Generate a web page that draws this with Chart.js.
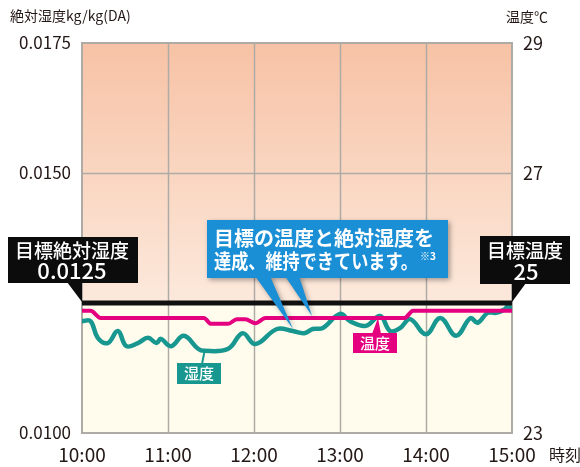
<!DOCTYPE html>
<html lang="ja">
<head>
<meta charset="utf-8">
<script src="https://cdn.jsdelivr.net/npm/chart.js@4"></script>
<style>
  html, body { margin: 0; padding: 0; background: #ffffff; }
  canvas { display: block; }
</style>
</head>
<body>
<canvas id="chart" width="580" height="467"></canvas>
<script>
// Time axis: minutes after 10:00
const timeLabels = ['10:00', '11:00', '12:00', '13:00', '14:00', '15:00'];

// Absolute humidity (kg/kg(DA)) readings
const humidityMinutes = [0, 6, 11, 18, 25, 31, 39, 46, 52, 55, 62, 71, 81, 85, 102, 112, 121, 136, 147, 155, 161, 168, 180, 187, 198, 208, 215, 222, 229, 240, 250, 261, 271, 276, 283, 289, 295, 297, 300];
const humidityValues = [0.01215, 0.01215, 0.01183, 0.01173, 0.01196, 0.01167, 0.01173, 0.01183, 0.01173, 0.01181, 0.01167, 0.01187, 0.01162, 0.01158, 0.01162, 0.01192, 0.01171, 0.01200, 0.01196, 0.01192, 0.01200, 0.01202, 0.01229, 0.01215, 0.01206, 0.01225, 0.01196, 0.01202, 0.01219, 0.01190, 0.01221, 0.01187, 0.01221, 0.01212, 0.01231, 0.01231, 0.01238, 0.01244, 0.01238];

// Room temperature (°C) readings
const temperatureMinutes = [0, 6, 13, 85, 90, 102, 108, 114, 121, 128, 225, 231, 300];
const temperatureValues = [24.88, 24.88, 24.77, 24.77, 24.68, 24.68, 24.75, 24.75, 24.69, 24.77, 24.77, 24.88, 24.88];

// Targets
const targetHumidity = 0.0125;
const targetTemperature = 25;

// Axis ticks
const humidityTicks = [0.0100, 0.0125, 0.0150, 0.0175];
const temperatureTicks = [23, 25, 27, 29];
const hiddenHumidityTick = 0.0125;
const hiddenTemperatureTick = 25;

const FONT = "'Noto Sans CJK JP', 'Noto Sans', sans-serif";
const TEXT = '#231815';
const GRID = '#aeaaa6';
const PINK = '#e4007f';
const TEAL = '#17978f';
const BLUE = '#1a8fd6';

const toPoints = (xs, ys) => xs.map((x, i) => ({ x: x, y: ys[i] }));

// Plot background: warm gradient above the humidity target, cream below
const backgroundPlugin = {
  id: 'zones',
  beforeDatasetsDraw(chart) {
    const { ctx, chartArea: a, scales } = chart;
    const yT = scales.y.getPixelForValue(targetHumidity);
    ctx.save();
    const g = ctx.createLinearGradient(0, a.top, 0, yT);
    g.addColorStop(0, '#f7c2a5');
    g.addColorStop(1, '#fce9dc');
    ctx.fillStyle = g;
    ctx.fillRect(a.left, a.top, a.right - a.left, yT - a.top);
    ctx.fillStyle = '#fffcee';
    ctx.fillRect(a.left, yT, a.right - a.left, a.bottom - yT);
    // hour grid lines and the 0.0150 line
    ctx.strokeStyle = GRID;
    ctx.lineWidth = 1.5;
    for (let i = 1; i < timeLabels.length - 1; i++) {
      const x = Math.round(scales.x.getPixelForValue(i * 60)) + 0.5;
      ctx.beginPath(); ctx.moveTo(x, a.top); ctx.lineTo(x, a.bottom); ctx.stroke();
    }
    const y150 = Math.round(scales.y.getPixelForValue(0.0150)) + 0.5;
    ctx.beginPath(); ctx.moveTo(a.left, y150); ctx.lineTo(a.right, y150); ctx.stroke();
    // frame
    ctx.lineWidth = 2;
    ctx.strokeRect(a.left, a.top, a.right - a.left, a.bottom - a.top);
    ctx.restore();
  }
};

function box(ctx, x, y, w, h, color) {
  ctx.fillStyle = color;
  ctx.fillRect(x, y, w, h);
}
function tri(ctx, pts, color) {
  ctx.fillStyle = color;
  ctx.beginPath();
  ctx.moveTo(pts[0][0], pts[0][1]);
  for (let i = 1; i < pts.length; i++) ctx.lineTo(pts[i][0], pts[i][1]);
  ctx.closePath();
  ctx.fill();
}
function text(ctx, s, x, y, size, color, align, weight) {
  ctx.font = (weight || '400') + ' ' + size + 'px ' + FONT;
  ctx.fillStyle = color;
  ctx.textAlign = align || 'center';
  ctx.textBaseline = 'middle';
  ctx.fillText(s, x, y);
}

// Callouts and captions
const calloutPlugin = {
  id: 'callouts',
  afterDatasetsDraw(chart) {
    const { ctx, chartArea: a, scales } = chart;
    const yT = scales.y.getPixelForValue(targetHumidity);
    ctx.save();

    // axis titles
    text(ctx, '絶対湿度kg/kg(DA)', 10, 16, 14, TEXT, 'left');
    text(ctx, '温度℃', 506, 17, 14, TEXT, 'left');
    text(ctx, '時刻', 549, 455, 16, TEXT, 'left');

    // humidity target callout
    box(ctx, 8, 237, 130, 46, '#0c0c0c');
    tri(ctx, [[67, 282], [a.left, 282], [a.left, yT - 1]], '#0c0c0c');
    text(ctx, '目標絶対湿度', 72, 251, 19, '#ffffff', 'center', '500');
    text(ctx, '0.0125', 72, 271, 22, '#ffffff', 'center', '500');

    // temperature target callout
    box(ctx, 480, 236, 90, 48, '#0c0c0c');
    tri(ctx, [[a.right, 283], [526, 283], [a.right, yT - 1]], '#0c0c0c');
    text(ctx, '目標温度', 525, 251, 19, '#ffffff', 'center', '500');
    text(ctx, targetTemperature.toString(), 526, 272, 22, '#ffffff', 'center', '500');

    // blue message callout
    ctx.save();
    ctx.shadowColor = 'rgba(0,0,0,0.35)';
    ctx.shadowBlur = 5;
    ctx.shadowOffsetX = 2;
    ctx.shadowOffsetY = 2;
    box(ctx, 207, 220, 241, 58, BLUE);
    tri(ctx, [[255, 276], [270, 276], [293, 329]], BLUE);
    tri(ctx, [[285, 276], [299, 276], [312, 316]], BLUE);
    ctx.restore();
    box(ctx, 207, 220, 241, 58, BLUE);
    ctx.font = '700 20px ' + FONT;
    ctx.fillStyle = '#ffffff';
    ctx.textAlign = 'left';
    ctx.textBaseline = 'middle';
    ctx.fillText('目標の温度と絶対湿度を', 214, 238, 225);
    ctx.fillText('達成、維持できています。', 214, 261, 204);
    text(ctx, '※3', 420, 256, 10, '#ffffff', 'left', '700');

    // humidity series label
    ctx.strokeStyle = TEAL;
    ctx.lineWidth = 2;
    ctx.beginPath(); ctx.moveTo(202, 364); ctx.lineTo(205, 349); ctx.stroke();
    box(ctx, 177, 363, 44, 21, TEAL);
    text(ctx, '湿度', 199, 373.5, 15, '#ffffff', 'center', '500');

    // temperature series label
    tri(ctx, [[372, 334], [381, 334], [378, 318]], PINK);
    box(ctx, 353, 333, 44, 20, PINK);
    text(ctx, '温度', 375, 343, 15, '#ffffff', 'center', '500');

    ctx.restore();
  }
};

new Chart(document.getElementById('chart'), {
  type: 'line',
  data: {
    datasets: [
      {
        label: '目標絶対湿度',
        data: [{ x: 0, y: targetHumidity }, { x: 300, y: targetHumidity }],
        yAxisID: 'y',
        borderColor: '#111111',
        borderWidth: 5,
        pointRadius: 0
      },
      {
        label: '温度',
        data: toPoints(temperatureMinutes, temperatureValues),
        yAxisID: 'y2',
        borderColor: PINK,
        borderWidth: 4,
        pointRadius: 0,
        cubicInterpolationMode: 'monotone'
      },
      {
        label: '湿度',
        data: toPoints(humidityMinutes, humidityValues),
        yAxisID: 'y',
        borderColor: TEAL,
        borderWidth: 4.5,
        pointRadius: 0,
        tension: 0.4,
        borderJoinStyle: 'round',
        borderCapStyle: 'round'
      }
    ]
  },
  options: {
    responsive: false,
    animation: false,
    layout: { padding: { top: 43, left: 0, right: 0, bottom: 0 } },
    plugins: { legend: { display: false }, tooltip: { enabled: false } },
    scales: {
      x: {
        type: 'linear',
        min: 0,
        max: 300,
        afterBuildTicks(scale) { scale.ticks = timeLabels.map((_, i) => ({ value: i * 60 })); },
        afterFit(scale) { scale.height = 34; },
        grid: { display: false, drawTicks: false },
        border: { display: false },
        ticks: {
          padding: 10,
          maxRotation: 0,
          autoSkip: false,
          color: TEXT,
          font: { family: FONT, size: 19 },
          callback: (v) => timeLabels[Math.round(v / 60)]
        }
      },
      y: {
        position: 'left',
        min: 0.0100,
        max: 0.0175,
        afterBuildTicks(scale) { scale.ticks = humidityTicks.map(v => ({ value: v })); },
        afterFit(scale) { scale.width = 82; },
        grid: { display: false, drawTicks: false },
        border: { display: false },
        ticks: {
          padding: 11,
          color: TEXT,
          font: { family: FONT, size: 17 },
          callback: (v) => Math.abs(v - hiddenHumidityTick) < 1e-9 ? '' : v.toFixed(4)
        }
      },
      y2: {
        position: 'right',
        min: 23,
        max: 29,
        afterBuildTicks(scale) { scale.ticks = temperatureTicks.map(v => ({ value: v })); },
        afterFit(scale) { scale.width = 68; },
        grid: { display: false, drawTicks: false },
        border: { display: false },
        ticks: {
          padding: 11,
          color: TEXT,
          font: { family: FONT, size: 18 },
          callback: (v) => v === hiddenTemperatureTick ? '' : String(v)
        }
      }
    }
  },
  plugins: [backgroundPlugin, calloutPlugin]
});
</script>
</body>
</html>
